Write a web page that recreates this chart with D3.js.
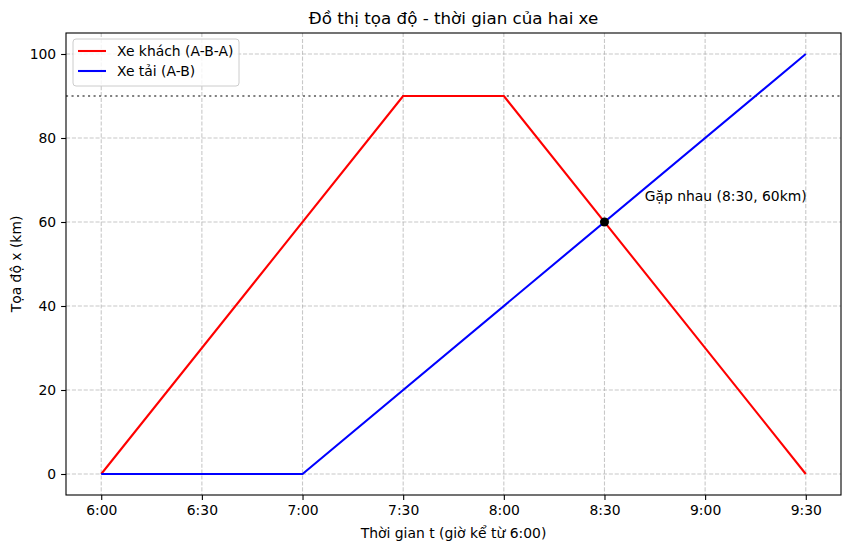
<!DOCTYPE html>
<html><head><meta charset="utf-8">
<script src="https://cdn.jsdelivr.net/npm/d3@7"></script>
<style>body{margin:0;background:#fff}text{font-family:"DejaVu Sans",sans-serif}</style>
</head><body><svg id="c" width="850" height="550"></svg>
<script>
const coachT = [0, 1.5, 2, 3.5];
const coachX = [0, 90, 90, 0];
const truckT = [0, 1, 3.5];
const truckX = [0, 0, 100];
const tickVals = [0, 0.5, 1, 1.5, 2, 2.5, 3, 3.5];
const tickLabels = ["6:00","6:30","7:00","7:30","8:00","8:30","9:00","9:30"];
const yTicks = [0, 20, 40, 60, 80, 100];
const meet = {t: 2.5, x: 60, label: "Gặp nhau (8:30, 60km)", lt: 2.7, lx: 65};
const refLine = 90;

const svg = d3.select("#c");
const L = 66, R = 841, T = 33, B = 495;
const x = d3.scaleLinear().domain([-0.175, 3.675]).range([L, R]);
const y = d3.scaleLinear().domain([-5, 105]).range([B, T]);

const g = svg.append("g");
// grid
g.selectAll(".gx").data(tickVals).join("line")
  .attr("x1", d => x(d)).attr("x2", d => x(d)).attr("y1", T).attr("y2", B)
  .attr("stroke", "#b0b0b0").attr("stroke-opacity", 0.7).attr("stroke-dasharray", "4.1,1.8").attr("stroke-width", 1.1);
g.selectAll(".gy").data(yTicks).join("line")
  .attr("y1", d => y(d)).attr("y2", d => y(d)).attr("x1", L).attr("x2", R)
  .attr("stroke", "#b0b0b0").attr("stroke-opacity", 0.7).attr("stroke-dasharray", "4.1,1.8").attr("stroke-width", 1.1);

// reference line
g.append("line").attr("x1", L).attr("x2", R).attr("y1", y(refLine)).attr("y2", y(refLine))
  .attr("stroke", "gray").attr("stroke-width", 2.08).attr("stroke-dasharray", "2.08,3.43");

const line = d3.line().x(d => x(d[0])).y(d => y(d[1]));
g.append("path").datum(coachT.map((t, i) => [t, coachX[i]])).attr("d", line)
  .attr("fill", "none").attr("stroke", "red").attr("stroke-width", 2.08).attr("stroke-linejoin", "round");
g.append("path").datum(truckT.map((t, i) => [t, truckX[i]])).attr("d", line)
  .attr("fill", "none").attr("stroke", "blue").attr("stroke-width", 2.08).attr("stroke-linejoin", "round");

g.append("circle").attr("cx", x(meet.t)).attr("cy", y(meet.x)).attr("r", 4.5).attr("fill", "black");
g.append("text").attr("x", x(meet.lt)).attr("y", y(meet.lx)).attr("font-size", 13.9).text(meet.label);

// axes
const xa = svg.append("g").attr("transform", `translate(0,${B})`)
  .call(d3.axisBottom(x).tickValues(tickVals).tickFormat((d, i) => tickLabels[i]).tickSize(4.9).tickPadding(4.9));
const ya = svg.append("g").attr("transform", `translate(${L},0)`)
  .call(d3.axisLeft(y).tickValues(yTicks).tickSize(4.9).tickPadding(4.9));
[xa, ya].forEach(a => { a.select(".domain").remove(); a.selectAll("text").attr("font-size", 13.9).attr("fill", "black").style("font-family", "DejaVu Sans"); a.selectAll("line").attr("stroke", "black").attr("stroke-width", 1.1); });

svg.append("rect").attr("x", L).attr("y", T).attr("width", R - L).attr("height", B - T)
  .attr("fill", "none").attr("stroke", "black").attr("stroke-width", 1.1);

svg.append("text").attr("x", (L + R) / 2).attr("y", 24).attr("text-anchor", "middle").attr("font-size", 16.7).text("Đồ thị tọa độ - thời gian của hai xe");
svg.append("text").attr("x", (L + R) / 2).attr("y", 538).attr("text-anchor", "middle").attr("font-size", 13.9).text("Thời gian t (giờ kể từ 6:00)");
svg.append("text").attr("transform", `translate(21,${(T + B) / 2}) rotate(-90)`).attr("text-anchor", "middle").attr("font-size", 13.9).text("Tọa độ x (km)");

// legend
const lg = svg.append("g");
lg.append("rect").attr("x", 73).attr("y", 39).attr("width", 166).attr("height", 47).attr("rx", 3)
  .attr("fill", "white").attr("fill-opacity", 0.8).attr("stroke", "#cccccc").attr("stroke-width", 1);
const items = [["Xe khách (A-B-A)", "red"], ["Xe tải (A-B)", "blue"]];
items.forEach((it, i) => {
  const yy = 51 + i * 20;
  lg.append("line").attr("x1", 78).attr("x2", 106).attr("y1", yy).attr("y2", yy).attr("stroke", it[1]).attr("stroke-width", 2.08);
  lg.append("text").attr("x", 117).attr("y", yy + 5).attr("font-size", 13.9).text(it[0]);
});
</script></body></html>
